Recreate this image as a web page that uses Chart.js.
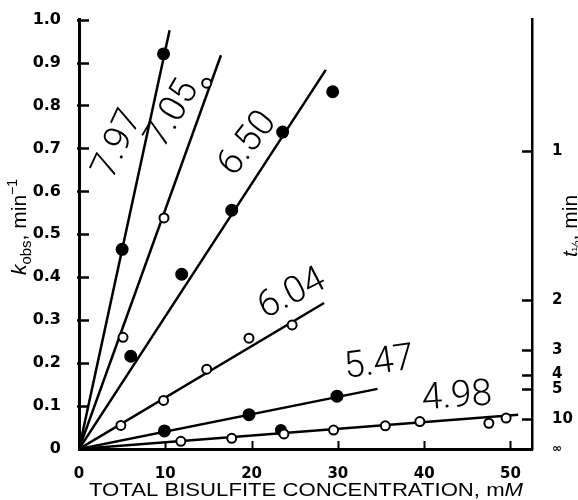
<!DOCTYPE html>
<html><head><meta charset="utf-8">
<script src="https://cdn.jsdelivr.net/npm/chart.js@4.4.1/dist/chart.umd.min.js"></script>
<style>html,body{margin:0;padding:0;background:#fff;}#wrap{width:578px;height:500px;}</style>
</head><body><div id="wrap"><canvas id="c" width="578" height="500"></canvas></div>
<script>
// ---- data ----
const seriesNames = ['7.97', '7.05', '6.50', '6.04', '5.47', '4.98'];
const x797 = [5, 9.8];
const y797 = [0.465, 0.92];
const x705 = [5.1, 9.85, 14.8];
const y705 = [0.26, 0.538, 0.852];
const x650 = [6.0, 11.9, 17.7, 23.6, 29.4];
const y650 = [0.216, 0.407, 0.556, 0.738, 0.832];
const x604 = [4.85, 9.8, 14.8, 19.7, 24.7];
const y604 = [0.055, 0.113, 0.186, 0.258, 0.289];
const x547 = [9.9, 19.7, 29.9];
const y547 = [0.042, 0.08, 0.123];
const x498 = [11.8, 17.7, 23.75, 29.5, 35.5, 39.5, 47.5, 49.5];
const y498 = [0.018, 0.025, 0.035, 0.044, 0.054, 0.064, 0.06, 0.072];
const x498b = [23.4];
const y498b = [0.044];
// fitted lines: from origin to these end points
const fitEndX = [10.5, 16.45, 28.6, 28.4, 34.6, 50.9];
const fitEndY = [0.975, 0.917, 0.883, 0.34, 0.14, 0.08];
const filledMarks = [true, false, true, false, true, false];
// axes
const xTicks = [0, 10, 20, 30, 40, 50];
const yTicks = [0, 0.1, 0.2, 0.3, 0.4, 0.5, 0.6, 0.7, 0.8, 0.9, 1.0];
const yTickLabels = ['0', '0.1', '0.2', '0.3', '0.4', '0.5', '0.6', '0.7', '0.8', '0.9', '1.0'];
const halfLives = [1, 2, 3, 4, 5, 10, Infinity];
const halfLifeLabels = ['1', '2', '3', '4', '5', '10', '\u221E'];

// ---- label placement (layout, in data units) ----
const labelAnchorX = [4.6, 10.9, 19.6, 24.7, 34.8, 43.8];
const labelAnchorY = [0.71, 0.78, 0.71, 0.36, 0.198, 0.12];
const labelRotation = [-65, -60, -52, -27, -8, -4];

const xs = [x797, x705, x650, x604, x547, x498];
const ys = [y797, y705, y650, y604, y547, y498];
const pts = (a, b) => a.map((v, i) => ({x: v, y: b[i]}));

const datasets = [];
seriesNames.forEach((name, i) => {
  datasets.push({
    label: 'pH ' + name,
    data: pts(xs[i], ys[i]),
    showLine: false,
    pointRadius: filledMarks[i] ? 5.5 : 4.5,
    pointBorderWidth: 2,
    pointBorderColor: '#000',
    pointBackgroundColor: filledMarks[i] ? '#000' : '#fff',
    order: 0
  });
  datasets.push({
    label: 'fit ' + name,
    data: [{x: 0, y: 0}, {x: fitEndX[i], y: fitEndY[i]}],
    showLine: true,
    borderColor: '#000',
    borderWidth: 2.5,
    pointRadius: 0,
    order: 1
  });
});
datasets.push({
  label: 'pH 4.98 (filled)',
  data: pts(x498b, y498b),
  showLine: false,
  pointRadius: 5,
  pointBorderWidth: 2,
  pointBorderColor: '#000',
  pointBackgroundColor: '#000',
  order: 0
});

const fam0 = "'DejaVu Sans', 'Liberation Sans', sans-serif";
const yFont = {family: fam0, size: 16, weight: 'bold'};
const xFont = {family: fam0, size: 15, weight: 'bold'};

const decorPlugin = {
  id: 'decor',
  afterDraw(chart) {
    const ctx = chart.ctx;
    const xS = chart.scales.x, yS = chart.scales.y, y2 = chart.scales.y2;
    const area = chart.chartArea;
    ctx.save();
    ctx.strokeStyle = '#000';
    ctx.lineCap = 'butt';
    ctx.lineWidth = 2.5;
    yTicks.forEach(v => {
      if (v === 0) return;
      const py = Math.round(yS.getPixelForValue(v)) + 0.5;
      ctx.beginPath(); ctx.moveTo(area.left - 2, py); ctx.lineTo(area.left + 10, py); ctx.stroke();
    });
    ctx.lineWidth = 2;
    xTicks.forEach(v => {
      if (v === 0) return;
      const px = Math.round(xS.getPixelForValue(v)) + 0.5;
      ctx.beginPath(); ctx.moveTo(px, area.bottom); ctx.lineTo(px, area.bottom - 8); ctx.stroke();
    });
    ctx.lineWidth = 2.5;
    halfLives.forEach(t => {
      if (!isFinite(t)) return;
      const py = Math.round(y2.getPixelForValue(Math.LN2 / t)) + 0.5;
      ctx.beginPath(); ctx.moveTo(area.right - 10, py); ctx.lineTo(area.right + 1, py); ctx.stroke();
    });

    // pH labels on lines
    ctx.fillStyle = '#000';
    ctx.textAlign = 'center';
    ctx.textBaseline = 'middle';
    ctx.font = "300 37px Roboto, 'Liberation Sans', sans-serif";
    seriesNames.forEach((name, i) => {
      const px = xS.getPixelForValue(labelAnchorX[i]);
      const py = yS.getPixelForValue(labelAnchorY[i]);
      ctx.save();
      ctx.translate(px, py);
      ctx.rotate(labelRotation[i] * Math.PI / 180);
      ctx.fillText(name, 0, 0);
      ctx.restore();
    });

    // x axis title
    const fam = "'Liberation Sans', Arial, sans-serif";
    ctx.textAlign = 'left';
    ctx.textBaseline = 'alphabetic';
    const t1 = 'TOTAL BISULFITE CONCENTRATION, m';
    const t2 = 'M';
    ctx.font = '19px ' + fam;
    const w1 = ctx.measureText(t1).width;
    ctx.font = 'italic 19px ' + fam;
    const w2 = ctx.measureText(t2).width;
    const sx = 434 / (w1 + w2);
    ctx.save();
    ctx.translate(89, 496);
    ctx.scale(sx, 1);
    ctx.font = '19px ' + fam;
    ctx.fillText(t1, 0, 0);
    ctx.font = 'italic 19px ' + fam;
    ctx.fillText(t2, w1, 0);
    ctx.restore();

    const drawParts = (cx, cy, parts) => {
      let total = 0;
      parts.forEach(p => { ctx.font = p.f; p.w = ctx.measureText(p.t).width; total += p.w; });
      ctx.save();
      ctx.translate(cx, cy);
      ctx.rotate(-Math.PI / 2);
      let x = -total / 2;
      parts.forEach(p => { ctx.font = p.f; ctx.fillText(p.t, x, p.dy); x += p.w; });
      ctx.restore();
    };
    drawParts(26, 227, [
      {t: 'k', f: 'italic 21px ' + fam, dy: 0},
      {t: 'obs', f: '15px ' + fam, dy: 5},
      {t: ', min', f: '21px ' + fam, dy: 0},
      {t: '\u22121', f: '14px ' + fam, dy: -9}
    ]);
    drawParts(577, 226, [
      {t: 't', f: 'italic 21px ' + fam, dy: 0},
      {t: '\u00BD', f: '13px ' + fam, dy: 4},
      {t: ', min', f: '21px ' + fam, dy: 0}
    ]);
    ctx.restore();
  }
};

new Chart(document.getElementById('c'), {
  type: 'scatter',
  data: {datasets},
  options: {
    responsive: false,
    animation: false,
    devicePixelRatio: 1,
    layout: {padding: {top: 14, left: 0, right: 0, bottom: 0}},
    plugins: {legend: {display: false}, tooltip: {enabled: false}},
    scales: {
      x: {
        type: 'linear', position: 'bottom', min: 0, max: 52.5,
        afterBuildTicks: s => { s.ticks = xTicks.map(v => ({value: v})); },
        afterFit: s => { s.height = 51; },
        grid: {display: false},
        border: {display: true, width: 3, color: '#000'},
        ticks: {color: '#000', font: xFont, padding: 8, maxRotation: 0, autoSkip: false,
                callback: v => String(v)}
      },
      y: {
        type: 'linear', position: 'left', min: 0, max: 1,
        afterBuildTicks: s => { s.ticks = yTicks.map(v => ({value: v})); },
        afterFit: s => { s.width = 79; },
        grid: {display: false},
        border: {display: true, width: 3, color: '#000'},
        ticks: {color: '#000', font: yFont, padding: 10, autoSkip: false,
                callback: (v, i) => yTickLabels[i]}
      },
      y2: {
        type: 'linear', position: 'right', min: 0, max: 1,
        afterBuildTicks: s => { s.ticks = halfLives.map(t => ({value: isFinite(t) ? Math.LN2 / t : 0})); },
        afterFit: s => { s.width = 46; },
        grid: {display: false},
        border: {display: true, width: 2.5, color: '#000'},
        ticks: {color: '#000', padding: 12, autoSkip: false,
                font: c => (c.index === 6 ? {family: fam0, size: 12, weight: 'bold'} : xFont),
                callback: (v, i) => halfLifeLabels[i]}
      }
    }
  },
  plugins: [decorPlugin]
});
</script>
</body></html>
